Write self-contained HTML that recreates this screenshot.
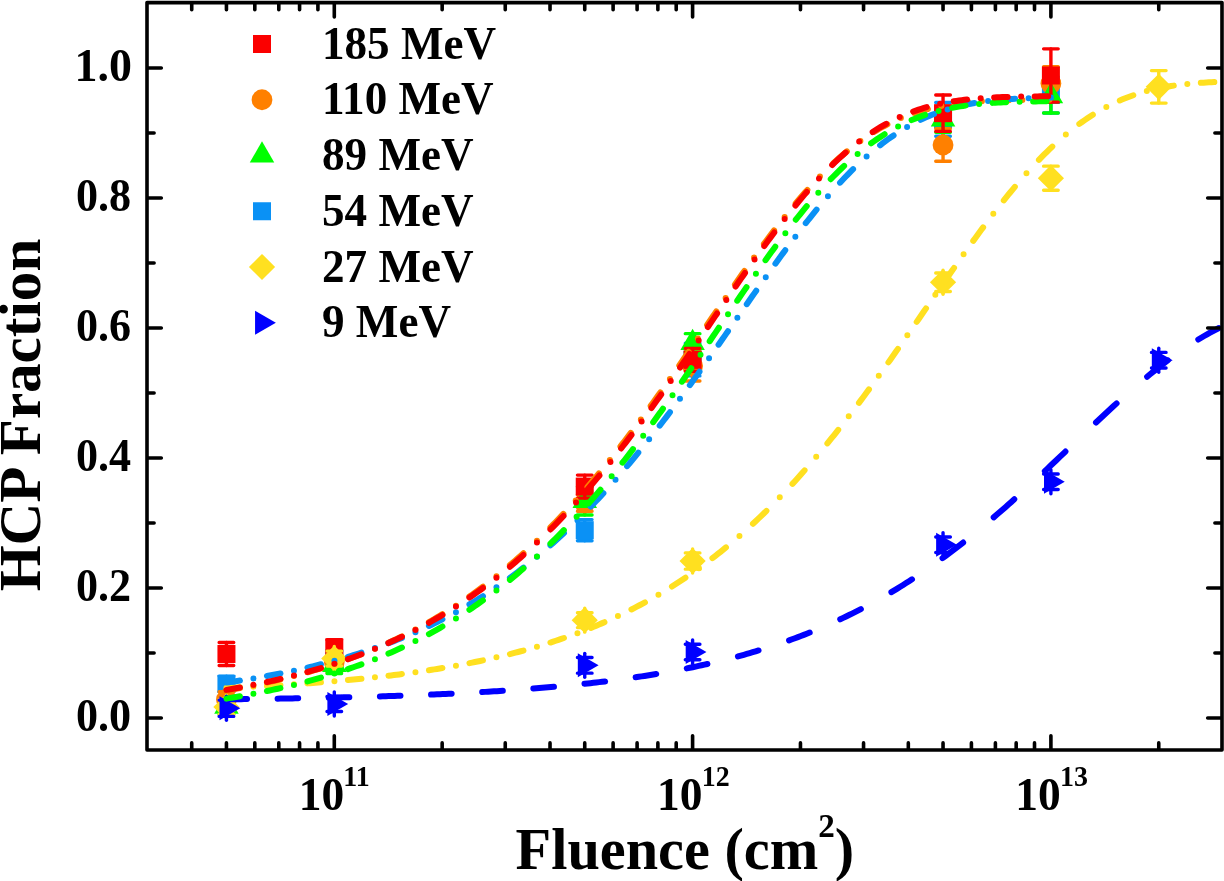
<!DOCTYPE html>
<html><head><meta charset="utf-8"><title>HCP Fraction vs Fluence</title>
<style>html,body{margin:0;padding:0;background:#fff;}body{width:1224px;height:881px;overflow:hidden;font-family:"Liberation Serif",serif;}svg{display:block;will-change:transform;}</style>
</head><body>
<svg width="1224" height="881" viewBox="0 0 1224 881">
<g id="markers">
<g>
<g stroke="#0a91f5" stroke-width="3.4" stroke-linecap="round" fill="none"><path d="M226.44 676.08V691.67"/><path d="M219.14 676.08H233.74M219.14 691.67H233.74"/></g>
<g stroke="#0a91f5" stroke-width="3.4" stroke-linecap="round" fill="none"><path d="M334.30 650.73V666.32"/><path d="M327.00 650.73H341.60M327.00 666.32H341.60"/></g>
<g stroke="#0a91f5" stroke-width="3.4" stroke-linecap="round" fill="none"><path d="M584.74 519.62V540.68"/><path d="M577.44 519.62H592.04M577.44 540.68H592.04"/></g>
<g stroke="#0a91f5" stroke-width="3.4" stroke-linecap="round" fill="none"><path d="M692.60 343.15V375.91"/><path d="M685.30 343.15H699.90M685.30 375.91H699.90"/></g>
<g stroke="#0a91f5" stroke-width="3.4" stroke-linecap="round" fill="none"><path d="M943.04 102.45V136.25"/><path d="M935.74 102.45H950.34M935.74 136.25H950.34"/></g>
<g stroke="#0a91f5" stroke-width="3.4" stroke-linecap="round" fill="none"><path d="M1050.90 76.97V112.98"/><path d="M1043.60 76.97H1058.20M1043.60 112.98H1058.20"/></g>
</g>
<g>
<rect x="217.44" y="674.88" width="18.0" height="18.0" fill="#0a91f5"/>
<rect x="325.30" y="649.52" width="18.0" height="18.0" fill="#0a91f5"/>
<rect x="575.74" y="521.15" width="18.0" height="18.0" fill="#0a91f5"/>
<rect x="683.60" y="350.53" width="18.0" height="18.0" fill="#0a91f5"/>
<rect x="934.04" y="110.35" width="18.0" height="18.0" fill="#0a91f5"/>
<rect x="1041.90" y="85.98" width="18.0" height="18.0" fill="#0a91f5"/>
</g>
<g>
<g stroke="#ff8000" stroke-width="3.4" stroke-linecap="round" fill="none"><path d="M226.44 691.68V707.27"/><path d="M219.14 691.68H233.74M219.14 707.27H233.74"/></g>
<g stroke="#ff8000" stroke-width="3.4" stroke-linecap="round" fill="none"><path d="M334.30 651.38V672.17"/><path d="M327.00 651.38H341.60M327.00 672.17H341.60"/></g>
<g stroke="#ff8000" stroke-width="3.4" stroke-linecap="round" fill="none"><path d="M584.74 494.40V511.30"/><path d="M577.44 494.40H592.04M577.44 511.30H592.04"/></g>
<g stroke="#ff8000" stroke-width="3.4" stroke-linecap="round" fill="none"><path d="M692.60 351.08V380.98"/><path d="M685.30 351.08H699.90M685.30 380.98H699.90"/></g>
<g stroke="#ff8000" stroke-width="3.4" stroke-linecap="round" fill="none"><path d="M943.04 128.77V161.27"/><path d="M935.74 128.77H950.34M935.74 161.27H950.34"/></g>
<g stroke="#ff8000" stroke-width="3.4" stroke-linecap="round" fill="none"><path d="M1050.90 66.70V100.50"/><path d="M1043.60 66.70H1058.20M1043.60 100.50H1058.20"/></g>
</g>
<g>
<g stroke="#00ff00" stroke-width="3.4" stroke-linecap="round" fill="none"><path d="M226.44 698.83V714.42"/><path d="M219.14 698.83H233.74M219.14 714.42H233.74"/></g>
<g stroke="#00ff00" stroke-width="3.4" stroke-linecap="round" fill="none"><path d="M334.30 656.57V673.48"/><path d="M327.00 656.57H341.60M327.00 673.48H341.60"/></g>
<g stroke="#00ff00" stroke-width="3.4" stroke-linecap="round" fill="none"><path d="M584.74 486.79V515.00"/><path d="M577.44 486.79H592.04M577.44 515.00H592.04"/></g>
<g stroke="#00ff00" stroke-width="3.4" stroke-linecap="round" fill="none"><path d="M692.60 333.66V352.25"/><path d="M685.30 333.66H699.90M685.30 352.25H699.90"/></g>
<g stroke="#00ff00" stroke-width="3.4" stroke-linecap="round" fill="none"><path d="M943.04 106.35V132.35"/><path d="M935.74 106.35H950.34M935.74 132.35H950.34"/></g>
<g stroke="#00ff00" stroke-width="3.4" stroke-linecap="round" fill="none"><path d="M1050.90 79.57V112.98"/><path d="M1043.60 79.57H1058.20M1043.60 112.98H1058.20"/></g>
</g>
<g>
<circle cx="226.44" cy="699.48" r="10.4" fill="#ff8000"/>
<circle cx="334.30" cy="661.77" r="10.4" fill="#ff8000"/>
<circle cx="584.74" cy="502.85" r="10.4" fill="#ff8000"/>
<circle cx="692.60" cy="366.03" r="10.4" fill="#ff8000"/>
<circle cx="943.04" cy="145.02" r="10.4" fill="#ff8000"/>
<circle cx="1050.90" cy="83.60" r="10.4" fill="#ff8000"/>
</g>
<g>
<path d="M226.44 692.48L238.69 713.70L214.19 713.70Z" fill="#00ff00"/>
<path d="M334.30 650.88L346.55 672.10L322.05 672.10Z" fill="#00ff00"/>
<path d="M584.74 486.75L596.99 507.97L572.49 507.97Z" fill="#00ff00"/>
<path d="M692.60 328.80L704.85 350.02L680.35 350.02Z" fill="#00ff00"/>
<path d="M943.04 105.20L955.29 126.42L930.79 126.42Z" fill="#00ff00"/>
<path d="M1050.90 82.13L1063.15 103.35L1038.65 103.35Z" fill="#00ff00"/>
</g>
<g>
<g stroke="#fb0000" stroke-width="3.4" stroke-linecap="round" fill="none"><path d="M226.44 642.47V665.48"/><path d="M219.14 642.47H233.74M219.14 665.48H233.74"/></g>
<g stroke="#fb0000" stroke-width="3.4" stroke-linecap="round" fill="none"><path d="M334.30 639.68V655.27"/><path d="M327.00 639.68H341.60M327.00 655.27H341.60"/></g>
<g stroke="#fb0000" stroke-width="3.4" stroke-linecap="round" fill="none"><path d="M584.74 475.10V498.11"/><path d="M577.44 475.10H592.04M577.44 498.11H592.04"/></g>
<g stroke="#fb0000" stroke-width="3.4" stroke-linecap="round" fill="none"><path d="M692.60 348.34V371.35"/><path d="M685.30 348.34H699.90M685.30 371.35H699.90"/></g>
<g stroke="#fb0000" stroke-width="3.4" stroke-linecap="round" fill="none"><path d="M943.04 94.97V131.37"/><path d="M935.74 94.97H950.34M935.74 131.37H950.34"/></g>
<g stroke="#fb0000" stroke-width="3.4" stroke-linecap="round" fill="none"><path d="M1050.90 48.83V102.13"/><path d="M1043.60 48.83H1058.20M1043.60 102.13H1058.20"/></g>
</g>
<g>
<rect x="217.44" y="644.98" width="18.0" height="18.0" fill="#fb0000"/>
<rect x="325.30" y="638.48" width="18.0" height="18.0" fill="#fb0000"/>
<rect x="575.74" y="477.60" width="18.0" height="18.0" fill="#fb0000"/>
<rect x="683.60" y="350.85" width="18.0" height="18.0" fill="#fb0000"/>
<rect x="934.04" y="104.17" width="18.0" height="18.0" fill="#fb0000"/>
<rect x="1041.90" y="66.48" width="18.0" height="18.0" fill="#fb0000"/>
</g>
<g>
<g stroke="#ffe020" stroke-width="3.4" stroke-linecap="round" fill="none"><path d="M226.44 695.01V719.01"/><path d="M219.14 699.61H233.74M219.14 714.42H233.74"/></g>
<g stroke="#ffe020" stroke-width="3.4" stroke-linecap="round" fill="none"><path d="M334.30 646.52V670.52"/><path d="M327.00 651.12H341.60M327.00 665.93H341.60"/></g>
<g stroke="#ffe020" stroke-width="3.4" stroke-linecap="round" fill="none"><path d="M584.74 608.17V632.17"/><path d="M577.44 612.76H592.04M577.44 627.58H592.04"/></g>
<g stroke="#ffe020" stroke-width="3.4" stroke-linecap="round" fill="none"><path d="M692.60 549.02V573.02"/><path d="M685.30 552.90H699.90M685.30 569.15H699.90"/></g>
<g stroke="#ffe020" stroke-width="3.4" stroke-linecap="round" fill="none"><path d="M943.04 270.24V294.24"/><path d="M935.74 272.94H950.34M935.74 291.54H950.34"/></g>
<g stroke="#ffe020" stroke-width="3.4" stroke-linecap="round" fill="none"><path d="M1050.90 166.15V190.20"/><path d="M1043.60 166.15H1058.20M1043.60 190.20H1058.20"/></g>
<g stroke="#ffe020" stroke-width="3.4" stroke-linecap="round" fill="none"><path d="M1158.76 70.60V103.10"/><path d="M1151.46 70.60H1166.06M1151.46 103.10H1166.06"/></g>
</g>
<g>
<path d="M226.44 693.91L239.54 707.01L226.44 720.12L213.34 707.01Z" fill="#ffe020"/>
<path d="M334.30 645.42L347.40 658.52L334.30 671.62L321.20 658.52Z" fill="#ffe020"/>
<path d="M584.74 607.07L597.84 620.17L584.74 633.27L571.64 620.17Z" fill="#ffe020"/>
<path d="M692.60 547.92L705.70 561.02L692.60 574.12L679.50 561.02Z" fill="#ffe020"/>
<path d="M943.04 269.14L956.14 282.24L943.04 295.34L929.94 282.24Z" fill="#ffe020"/>
<path d="M1050.90 165.07L1064.00 178.17L1050.90 191.27L1037.80 178.17Z" fill="#ffe020"/>
<path d="M1158.76 73.75L1171.86 86.85L1158.76 99.95L1145.66 86.85Z" fill="#ffe020"/>
</g>
<g>
<g stroke="#0000ff" stroke-width="3.4" stroke-linecap="round" fill="none"><path d="M226.44 696.25V720.25"/><path d="M219.14 700.12H233.74M219.14 716.38H233.74"/></g>
<g stroke="#0000ff" stroke-width="3.4" stroke-linecap="round" fill="none"><path d="M334.30 692.02V716.02"/><path d="M327.00 696.55H341.60M327.00 711.50H341.60"/></g>
<g stroke="#0000ff" stroke-width="3.4" stroke-linecap="round" fill="none"><path d="M584.74 653.35V677.35"/><path d="M577.44 657.55H592.04M577.44 673.15H592.04"/></g>
<g stroke="#0000ff" stroke-width="3.4" stroke-linecap="round" fill="none"><path d="M692.60 640.02V664.02"/><path d="M685.30 644.23H699.90M685.30 659.82H699.90"/></g>
<g stroke="#0000ff" stroke-width="3.4" stroke-linecap="round" fill="none"><path d="M943.04 532.77V556.77"/><path d="M935.74 536.98H950.34M935.74 552.57H950.34"/></g>
<g stroke="#0000ff" stroke-width="3.4" stroke-linecap="round" fill="none"><path d="M1050.90 469.73V493.73"/><path d="M1043.60 473.93H1058.20M1043.60 489.53H1058.20"/></g>
<g stroke="#0000ff" stroke-width="3.4" stroke-linecap="round" fill="none"><path d="M1158.76 348.18V372.18"/><path d="M1151.46 352.38H1166.06M1151.46 367.98H1166.06"/></g>
</g>
<g>
<path d="M240.30 708.25L219.51 696.25L219.51 720.25Z" fill="#0000ff"/>
<path d="M348.16 704.02L327.37 692.02L327.37 716.02Z" fill="#0000ff"/>
<path d="M598.60 665.35L577.81 653.35L577.81 677.35Z" fill="#0000ff"/>
<path d="M706.46 652.02L685.67 640.02L685.67 664.02Z" fill="#0000ff"/>
<path d="M956.90 544.77L936.11 532.77L936.11 556.77Z" fill="#0000ff"/>
<path d="M1064.76 481.73L1043.97 469.73L1043.97 493.73Z" fill="#0000ff"/>
<path d="M1172.62 360.18L1151.83 348.18L1151.83 372.18Z" fill="#0000ff"/>
</g>
</g>
<g id="curves">
<path d="M226.44 699.33L229.38 699.30L232.33 699.27L235.27 699.23L238.21 699.20L241.16 699.16L244.10 699.12L247.04 699.08M277.59 698.65L280.53 698.60L283.48 698.55L286.42 698.51L289.36 698.46L292.31 698.41L295.25 698.35L298.19 698.30M328.74 697.70L331.68 697.63L334.63 697.57L337.57 697.50L340.51 697.43L343.46 697.36L346.40 697.29L349.34 697.22M379.89 696.38L382.83 696.29L385.78 696.20L388.72 696.11L391.66 696.01L394.61 695.92L397.55 695.82L400.49 695.72M431.04 694.56L433.98 694.44L436.93 694.31L439.87 694.18L442.81 694.05L445.76 693.92L448.70 693.78L451.64 693.64M482.19 692.04L485.13 691.87L488.08 691.70L491.02 691.52L493.96 691.34L496.91 691.16L499.85 690.97L502.79 690.78M533.34 688.58L536.28 688.34L539.23 688.10L542.17 687.86L545.11 687.61L548.06 687.36L551.00 687.10L553.94 686.84M584.49 683.81L587.43 683.48L590.38 683.16L593.32 682.82L596.26 682.48L599.21 682.13L602.15 681.78L605.09 681.42M635.64 677.28L638.58 676.84L641.53 676.39L644.47 675.93L647.41 675.47L650.36 675.00L653.30 674.51L656.24 674.02M686.79 668.39L689.73 667.80L692.68 667.19L695.62 666.57L698.56 665.94L701.51 665.30L704.45 664.65L707.39 663.98M737.94 656.40L740.88 655.59L743.83 654.77L746.77 653.94L749.71 653.10L752.66 652.24L755.60 651.37L758.54 650.48M789.09 640.37L792.03 639.30L794.98 638.22L797.92 637.12L800.86 636.00L803.81 634.87L806.75 633.71L809.69 632.54M840.24 619.28L843.18 617.89L846.13 616.48L849.07 615.06L852.01 613.60L854.96 612.13L857.90 610.64L860.84 609.13M891.39 592.13L894.33 590.36L897.28 588.57L900.22 586.76L903.16 584.93L906.11 583.07L909.05 581.19L911.99 579.29M942.54 558.16L945.48 556.00L948.43 553.81L951.37 551.59L954.31 549.36L957.26 547.10L960.20 544.82L963.14 542.52M993.69 517.38L996.63 514.85L999.58 512.29L1002.52 509.72L1005.46 507.13L1008.41 504.53L1011.35 501.90L1014.29 499.27M1044.84 471.09L1047.78 468.32L1050.73 465.54L1053.67 462.75L1056.61 459.96L1059.56 457.16L1062.50 454.36L1065.44 451.55M1095.99 422.51L1098.93 419.74L1101.88 416.98L1104.82 414.24L1107.76 411.51L1110.71 408.79L1113.65 406.08L1116.59 403.40M1147.14 376.72L1150.08 374.29L1153.03 371.90L1155.97 369.54L1158.91 367.20L1161.86 364.91L1164.80 362.64L1167.74 360.41M1198.29 339.54L1201.23 337.76L1204.18 336.03L1207.12 334.34L1210.06 332.69L1213.01 331.09L1215.95 329.53L1218.89 328.02" stroke="#0000ff" stroke-width="6.0" stroke-linecap="round" stroke-linejoin="round" fill="none"/>
<path d="M226.44 687.95L229.14 687.83L231.84 687.71L234.54 687.59L237.24 687.47L239.94 687.34M253.44 686.68h0.01M266.94 685.95L269.64 685.80L272.34 685.65L275.04 685.49L277.74 685.33L280.44 685.17M293.94 684.31h0.01M307.44 683.37L310.14 683.18L312.84 682.98L315.54 682.77L318.24 682.57L320.94 682.36M334.44 681.25h0.01M347.94 680.05L350.64 679.79L353.34 679.53L356.04 679.27L358.74 679.00L361.44 678.73M374.94 677.31h0.01M388.44 675.75L391.14 675.43L393.84 675.10L396.54 674.76L399.24 674.41L401.94 674.06M415.44 672.23h0.01M428.94 670.23L431.64 669.81L434.34 669.39L437.04 668.95L439.74 668.51L442.44 668.06M455.94 665.70h0.01M469.44 663.14L472.14 662.61L474.84 662.06L477.54 661.50L480.24 660.94L482.94 660.37M496.44 657.35h0.01M509.94 654.08L512.64 653.39L515.34 652.69L518.04 651.98L520.74 651.26L523.44 650.53M536.94 646.69h0.01M550.44 642.53L553.14 641.65L555.84 640.77L558.54 639.87L561.24 638.95L563.94 638.02M577.44 633.15h0.01M590.94 627.89L593.64 626.78L596.34 625.66L599.04 624.53L601.74 623.37L604.44 622.20M617.94 616.07h0.01M631.44 609.46L634.14 608.08L636.84 606.68L639.54 605.25L642.24 603.81L644.94 602.35M658.44 594.70h0.01M671.94 586.48L674.64 584.77L677.34 583.03L680.04 581.27L682.74 579.48L685.44 577.67M698.94 568.23h0.01M712.44 558.15L715.14 556.05L717.84 553.93L720.54 551.78L723.24 549.60L725.94 547.39M739.44 535.93h0.01M752.94 523.75L755.64 521.23L758.34 518.68L761.04 516.09L763.74 513.48L766.44 510.84M779.76 497.37h0.01M792.45 483.87L794.92 481.17L797.36 478.47L799.79 475.77L802.19 473.07L804.57 470.37M816.19 456.87h0.01M827.39 443.37L829.58 440.67L831.76 437.97L833.93 435.27L836.08 432.57L838.22 429.87M848.73 416.37h0.01M858.96 402.87L860.98 400.17L862.99 397.47L864.99 394.77L866.98 392.07L868.96 389.37M878.77 375.87h0.01M888.41 362.37L890.33 359.67L892.23 356.97L894.14 354.27L896.03 351.57L897.93 348.87M907.34 335.37h0.01M916.69 321.87L918.56 319.17L920.42 316.47L922.28 313.77L924.14 311.07L926.00 308.37M935.31 294.87h0.01M944.65 281.37L946.52 278.67L948.40 275.97L950.28 273.27L952.17 270.57L954.06 267.87M963.57 254.37h0.01M973.24 240.87L975.20 238.17L977.17 235.47L979.14 232.77L981.13 230.07L983.13 227.37M993.29 213.87h0.01M1003.82 200.37L1005.98 197.67L1008.16 194.97L1010.36 192.27L1012.58 189.57L1014.83 186.87M1026.46 173.37h0.01M1038.93 159.87L1041.55 157.17L1044.22 154.47L1046.92 151.79L1049.62 149.17L1052.32 146.59M1065.82 134.56h0.01M1079.32 123.94L1082.02 121.98L1084.72 120.09L1087.42 118.25L1090.12 116.47L1092.82 114.74M1106.32 106.94h0.01M1119.82 100.47L1122.52 99.33L1125.22 98.23L1127.92 97.19L1130.62 96.19L1133.32 95.24M1146.82 91.12h0.01M1160.32 87.97L1163.02 87.45L1165.72 86.95L1168.42 86.49L1171.12 86.05L1173.82 85.64M1187.32 83.98h0.01M1200.82 82.83L1203.52 82.65L1206.22 82.49L1208.92 82.34L1211.62 82.20L1214.32 82.08" stroke="#ffe020" stroke-width="6.0" stroke-linecap="round" stroke-linejoin="round" fill="none"/>
<path d="M226.44 690.57L229.14 690.10L231.84 689.61L234.54 689.12L237.24 688.62L239.94 688.11M253.44 685.44h0.01M266.94 682.54L269.64 681.93L272.34 681.31L275.04 680.68L277.74 680.04L280.44 679.39M293.94 675.98h0.01M307.44 672.28L310.14 671.51L312.84 670.72L315.54 669.92L318.24 669.10L320.94 668.28M334.44 663.94h0.01M347.94 659.25L350.64 658.26L353.34 657.26L356.04 656.25L358.74 655.22L361.44 654.17M374.94 648.69h0.01M388.44 642.77L391.14 641.54L393.84 640.28L396.54 639.00L399.24 637.71L401.94 636.39M415.44 629.52h0.01M428.94 622.12L431.64 620.58L434.34 619.01L437.04 617.42L439.74 615.81L442.44 614.18M455.94 605.65h0.01M469.44 596.50L472.14 594.60L474.84 592.67L477.54 590.71L480.24 588.73L482.94 586.72M496.44 576.27h0.01M509.94 565.13L512.64 562.81L515.34 560.47L518.04 558.10L520.74 555.70L523.44 553.27M536.94 540.69h0.01M550.41 527.38L553.06 524.68L555.68 521.98L558.27 519.28L560.83 516.58L563.37 513.88M575.72 500.38h0.01M587.53 486.88L589.84 484.18L592.13 481.48L594.40 478.78L596.65 476.08L598.89 473.38M609.85 459.88h0.01M620.47 446.38L622.55 443.68L624.63 440.98L626.69 438.28L628.74 435.58L630.79 432.88M640.85 419.38h0.01M650.70 405.88L652.65 403.18L654.59 400.48L656.52 397.78L658.45 395.08L660.37 392.38M669.88 378.88h0.01M679.29 365.38L681.15 362.68L683.02 359.98L684.88 357.28L686.74 354.58L688.60 351.88M697.86 338.38h0.01M707.09 324.88L708.93 322.18L710.78 319.48L712.63 316.78L714.47 314.08L716.32 311.38M725.60 297.88h0.01M734.95 284.38L736.84 281.68L738.73 278.98L740.62 276.28L742.52 273.58L744.43 270.88M754.07 257.38h0.01M763.93 243.88L765.94 241.18L767.96 238.48L769.99 235.78L772.03 233.08L774.09 230.38M784.63 216.88h0.01M795.67 203.38L797.95 200.68L800.26 197.98L802.60 195.28L804.97 192.58L807.37 189.88M819.94 176.38h0.01M833.38 163.21L836.08 160.73L838.78 158.30L841.48 155.93L844.18 153.61L846.88 151.36M860.38 140.93h0.01M873.88 131.94L876.58 130.31L879.28 128.74L881.98 127.22L884.68 125.76L887.38 124.35M900.88 118.08h0.01M914.38 113.04L917.08 112.17L919.78 111.34L922.48 110.56L925.18 109.81L927.88 109.10M941.38 106.10h0.01M954.88 103.90L957.58 103.54L960.28 103.21L962.98 102.90L965.68 102.61L968.38 102.34M981.88 101.27h0.01M995.38 100.57L998.08 100.47L1000.78 100.37L1003.48 100.29L1006.18 100.21L1008.88 100.14M1022.38 99.88h0.01M1035.88 99.74L1038.58 99.72L1041.28 99.70L1043.98 99.68L1046.68 99.67L1049.38 99.66" stroke="#ff8000" stroke-width="6.0" stroke-linecap="round" stroke-linejoin="round" fill="none"/>
<path d="M226.44 682.60L229.14 682.21L231.84 681.82L234.54 681.41L237.24 681.00L239.94 680.59M253.44 678.40h0.01M266.94 676.02L269.64 675.52L272.34 675.01L275.04 674.49L277.74 673.97L280.44 673.43M293.94 670.63h0.01M307.44 667.58L310.14 666.95L312.84 666.30L315.54 665.64L318.24 664.97L320.94 664.28M334.44 660.71h0.01M347.94 656.83L350.64 656.02L353.34 655.19L356.04 654.35L358.74 653.50L361.44 652.63M374.94 648.09h0.01M388.44 643.18L391.14 642.15L393.84 641.10L396.54 640.04L399.24 638.97L401.94 637.87M415.44 632.14h0.01M428.94 625.96L431.64 624.67L434.34 623.36L437.04 622.03L439.74 620.68L442.44 619.31M455.94 612.14h0.01M469.44 604.44L472.14 602.83L474.84 601.20L477.54 599.55L480.24 597.87L482.94 596.17M496.44 587.30h0.01M509.94 577.81L512.64 575.84L515.34 573.84L518.04 571.81L520.74 569.75L523.44 567.67M536.94 556.86h0.01M550.44 545.35L553.14 542.96L555.84 540.54L558.54 538.10L561.24 535.62L563.94 533.12M577.44 520.16h0.01M590.74 506.69L593.32 503.99L595.88 501.29L598.41 498.59L600.92 495.89L603.40 493.19M615.50 479.69h0.01M627.12 466.19L629.39 463.49L631.64 460.79L633.88 458.09L636.10 455.39L638.31 452.69M649.15 439.19h0.01M659.68 425.69L661.75 422.99L663.81 420.29L665.86 417.59L667.90 414.89L669.93 412.19M679.97 398.69h0.01M689.81 385.19L691.76 382.49L693.70 379.79L695.64 377.09L697.57 374.39L699.50 371.69M709.07 358.19h0.01M718.54 344.69L720.43 341.99L722.32 339.29L724.20 336.59L726.08 333.89L727.96 331.19M737.36 317.69h0.01M746.76 304.19L748.64 301.49L750.53 298.79L752.42 296.09L754.31 293.39L756.21 290.69M765.74 277.19h0.01M775.40 263.69L777.35 260.99L779.31 258.29L781.28 255.59L783.26 252.89L785.24 250.19M795.33 236.69h0.01M805.74 223.19L807.86 220.49L810.01 217.79L812.17 215.09L814.36 212.39L816.56 209.69M827.93 196.19h0.01M840.02 182.69L842.55 179.99L845.12 177.29L847.73 174.59L850.39 171.89L853.09 169.20M866.59 156.55h0.01M880.09 145.28L882.79 143.19L885.49 141.16L888.19 139.19L890.89 137.27L893.59 135.41M907.09 126.95h0.01M920.59 119.85L923.29 118.59L925.99 117.38L928.69 116.21L931.39 115.10L934.09 114.03M947.59 109.38h0.01M961.09 105.77L963.79 105.16L966.49 104.58L969.19 104.04L971.89 103.53L974.59 103.05M988.09 101.07h0.01M1001.59 99.68L1004.29 99.46L1006.99 99.26L1009.69 99.07L1012.39 98.90L1015.09 98.74M1028.59 98.13h0.01M1042.09 97.76L1045.03 97.70L1047.96 97.65L1050.90 97.60" stroke="#0a91f5" stroke-width="6.0" stroke-linecap="round" stroke-linejoin="round" fill="none"/>
<path d="M226.44 698.60L229.14 698.15L231.84 697.70L234.54 697.23L237.24 696.76L239.94 696.29M253.44 693.78h0.01M266.94 691.05L269.64 690.48L272.34 689.90L275.04 689.30L277.74 688.70L280.44 688.09M293.94 684.88h0.01M307.44 681.40L310.14 680.67L312.84 679.93L315.54 679.17L318.24 678.41L320.94 677.63M334.44 673.54h0.01M347.94 669.12L350.64 668.19L353.34 667.25L356.04 666.29L358.74 665.32L361.44 664.33M374.94 659.16h0.01M388.44 653.57L391.14 652.40L393.84 651.21L396.54 650.01L399.24 648.78L401.94 647.54M415.44 641.04h0.01M428.94 634.03L431.64 632.57L434.34 631.09L437.04 629.58L439.74 628.05L442.44 626.50M455.94 618.40h0.01M469.44 609.72L472.14 607.90L474.84 606.07L477.54 604.21L480.24 602.32L482.94 600.41M496.44 590.45h0.01M509.94 579.81L512.64 577.60L515.34 575.36L518.04 573.10L520.74 570.80L523.44 568.48M536.94 556.42h0.01M550.44 543.62L553.14 540.98L555.84 538.30L558.53 535.60L561.19 532.90L563.83 530.20M576.59 516.70h0.01M588.77 503.20L591.14 500.50L593.49 497.80L595.82 495.10L598.14 492.40L600.43 489.70M611.65 476.20h0.01M622.48 462.70L624.61 460.00L626.72 457.30L628.82 454.60L630.91 451.90L632.99 449.20M643.20 435.70h0.01M653.17 422.20L655.13 419.50L657.09 416.80L659.04 414.10L660.99 411.40L662.92 408.70M672.51 395.20h0.01M681.94 381.70L683.82 379.00L685.68 376.30L687.55 373.60L689.41 370.90L691.27 368.20M700.50 354.70h0.01M709.69 341.20L711.52 338.50L713.35 335.80L715.19 333.10L717.02 330.40L718.85 327.70M728.02 314.20h0.01M737.22 300.70L739.07 298.00L740.93 295.30L742.78 292.60L744.64 289.90L746.51 287.20M755.91 273.70h0.01M765.48 260.20L767.41 257.50L769.36 254.80L771.32 252.10L773.28 249.40L775.26 246.70M785.34 233.20h0.01M795.79 219.70L797.93 217.00L800.10 214.30L802.29 211.60L804.49 208.90L806.73 206.20M818.30 192.70h0.01M830.73 179.20L833.34 176.50L836.01 173.80L838.71 171.12L841.41 168.49L844.11 165.91M857.61 153.89h0.01M871.11 143.31L873.81 141.37L876.51 139.48L879.21 137.66L881.91 135.89L884.61 134.17M898.11 126.45h0.01M911.61 120.07L914.31 118.94L917.01 117.87L919.71 116.84L922.41 115.86L925.11 114.93M938.61 110.89h0.01M952.11 107.83L954.81 107.32L957.51 106.84L960.21 106.39L962.91 105.96L965.61 105.57M979.11 103.96h0.01M992.61 102.87L995.31 102.70L998.01 102.54L1000.71 102.40L1003.41 102.27L1006.11 102.15M1019.61 101.70h0.01M1033.11 101.43L1035.81 101.39L1038.51 101.36L1041.21 101.33L1043.91 101.30L1046.61 101.28" stroke="#00ff00" stroke-width="6.0" stroke-linecap="round" stroke-linejoin="round" fill="none"/>
<path d="M226.44 689.89L229.14 689.43L231.84 688.96L234.54 688.47L237.24 687.98L239.94 687.49M253.44 684.87h0.01M266.94 682.03L269.64 681.43L272.34 680.83L275.04 680.21L277.74 679.58L280.44 678.95M293.94 675.61h0.01M307.44 671.98L310.14 671.22L312.84 670.45L315.54 669.66L318.24 668.87L320.94 668.05M334.44 663.80h0.01M347.94 659.20L350.64 658.24L353.34 657.26L356.04 656.26L358.74 655.25L361.44 654.23M374.94 648.85h0.01M388.44 643.05L391.14 641.83L393.84 640.60L396.54 639.35L399.24 638.07L401.94 636.78M415.44 630.04h0.01M428.94 622.78L431.64 621.26L434.34 619.72L437.04 618.16L439.74 616.57L442.44 614.97M455.94 606.58h0.01M469.44 597.59L472.14 595.72L474.84 593.82L477.54 591.90L480.24 589.95L482.94 587.97M496.44 577.69h0.01M509.94 566.71L512.64 564.43L515.34 562.13L518.04 559.79L520.74 557.43L523.44 555.03M536.94 542.62h0.01M550.44 529.47L553.12 526.77L555.77 524.07L558.39 521.37L560.99 518.67L563.56 515.97M576.04 502.47h0.01M587.96 488.97L590.29 486.27L592.60 483.57L594.89 480.87L597.16 478.17L599.42 475.47M610.46 461.97h0.01M621.14 448.47L623.24 445.77L625.32 443.07L627.40 440.37L629.46 437.67L631.51 434.97M641.62 421.47h0.01M651.50 407.97L653.45 405.27L655.40 402.57L657.34 399.87L659.27 397.17L661.19 394.47M670.72 380.97h0.01M680.13 367.47L682.00 364.77L683.86 362.07L685.72 359.37L687.58 356.67L689.44 353.97M698.68 340.47h0.01M707.88 326.97L709.72 324.27L711.56 321.57L713.40 318.87L715.24 316.17L717.08 313.47M726.31 299.97h0.01M735.60 286.47L737.47 283.77L739.34 281.07L741.22 278.37L743.11 275.67L745.00 272.97M754.54 259.47h0.01M764.28 245.97L766.26 243.27L768.25 240.57L770.25 237.87L772.26 235.17L774.29 232.47M784.64 218.97h0.01M795.44 205.47L797.67 202.77L799.92 200.07L802.19 197.37L804.50 194.67L806.83 191.97M818.99 178.47h0.01M832.16 165.02L834.86 162.42L837.56 159.88L840.26 157.39L842.96 154.96L845.66 152.58M859.16 141.57h0.01M872.66 132.00L875.36 130.25L878.06 128.57L880.76 126.94L883.46 125.36L886.16 123.84M899.66 117.06h0.01M913.16 111.54L915.86 110.58L918.56 109.66L921.26 108.79L923.96 107.96L926.66 107.18M940.16 103.82h0.01M953.66 101.32L956.36 100.91L959.06 100.53L961.76 100.17L964.46 99.84L967.16 99.52M980.66 98.28h0.01M994.16 97.45L996.86 97.32L999.56 97.21L1002.26 97.10L1004.96 97.01L1007.66 96.92M1021.16 96.60h0.01M1034.66 96.42L1037.36 96.40L1040.06 96.37L1042.76 96.35L1045.46 96.34L1048.16 96.32" stroke="#fb0000" stroke-width="6.0" stroke-linecap="round" stroke-linejoin="round" fill="none"/>
</g>
<g stroke="#000" stroke-width="3.6" stroke-linecap="round" stroke-linejoin="round" fill="none">
<rect x="147.0" y="2.6" width="1075.0" height="747.4"/>
<path d="M191.72 749.0v-6.10M191.72 3.6v6.10M226.44 749.0v-6.10M226.44 3.6v6.10M254.81 749.0v-6.10M254.81 3.6v6.10M278.80 749.0v-6.10M278.80 3.6v6.10M299.58 749.0v-6.10M299.58 3.6v6.10M317.91 749.0v-6.10M317.91 3.6v6.10M334.30 749.0v-13.30M334.30 3.6v13.30M442.16 749.0v-6.10M442.16 3.6v6.10M505.25 749.0v-6.10M505.25 3.6v6.10M550.02 749.0v-6.10M550.02 3.6v6.10M584.74 749.0v-6.10M584.74 3.6v6.10M613.11 749.0v-6.10M613.11 3.6v6.10M637.10 749.0v-6.10M637.10 3.6v6.10M657.88 749.0v-6.10M657.88 3.6v6.10M676.21 749.0v-6.10M676.21 3.6v6.10M692.60 749.0v-13.30M692.60 3.6v13.30M800.46 749.0v-6.10M800.46 3.6v6.10M863.55 749.0v-6.10M863.55 3.6v6.10M908.32 749.0v-6.10M908.32 3.6v6.10M943.04 749.0v-6.10M943.04 3.6v6.10M971.41 749.0v-6.10M971.41 3.6v6.10M995.40 749.0v-6.10M995.40 3.6v6.10M1016.18 749.0v-6.10M1016.18 3.6v6.10M1034.51 749.0v-6.10M1034.51 3.6v6.10M1050.90 749.0v-13.30M1050.90 3.6v13.30M1158.76 749.0v-6.10M1158.76 3.6v6.10M148.0 718.00h13.30M1221.0 718.00h-13.30M148.0 653.00h6.10M1221.0 653.00h-6.10M148.0 588.00h13.30M1221.0 588.00h-13.30M148.0 523.00h6.10M1221.0 523.00h-6.10M148.0 458.00h13.30M1221.0 458.00h-13.30M148.0 393.00h6.10M1221.0 393.00h-6.10M148.0 328.00h13.30M1221.0 328.00h-13.30M148.0 263.00h6.10M1221.0 263.00h-6.10M148.0 198.00h13.30M1221.0 198.00h-13.30M148.0 133.00h6.10M1221.0 133.00h-6.10M148.0 68.00h13.30M1221.0 68.00h-13.30"/>
</g>
<g font-family="Liberation Serif, serif" font-weight="bold" fill="#000">
<text transform="translate(131.20 730.90) scale(0.99 1.06)" font-size="44.6" text-anchor="end">0.0</text>
<text transform="translate(131.20 600.90) scale(0.99 1.06)" font-size="44.6" text-anchor="end">0.2</text>
<text transform="translate(131.20 470.90) scale(0.99 1.06)" font-size="44.6" text-anchor="end">0.4</text>
<text transform="translate(131.20 340.90) scale(0.99 1.06)" font-size="44.6" text-anchor="end">0.6</text>
<text transform="translate(131.20 210.90) scale(0.99 1.06)" font-size="44.6" text-anchor="end">0.8</text>
<text transform="translate(131.90 80.90) scale(1.03 1.06)" font-size="44.6" text-anchor="end">1.0</text>
<text transform="translate(298.70 809.80) scale(1.02 1.05)" font-size="44.6" text-anchor="start">10<tspan font-size="27.4" dx="-0.8" dy="-23.1">11</tspan></text>
<text transform="translate(657.00 809.80) scale(1.02 1.05)" font-size="44.6" text-anchor="start">10<tspan font-size="27.4" dx="-0.8" dy="-23.1">12</tspan></text>
<text transform="translate(1015.30 809.80) scale(1.02 1.05)" font-size="44.6" text-anchor="start">10<tspan font-size="27.4" dx="-0.8" dy="-23.1">13</tspan></text>
<text transform="translate(322.00 58.80) scale(1.012 1.04)" font-size="44.6" text-anchor="start">185 MeV</text>
<text transform="translate(322.00 114.48) scale(1.012 1.04)" font-size="44.6" text-anchor="start">110 MeV</text>
<text transform="translate(322.00 170.16) scale(1.012 1.04)" font-size="44.6" text-anchor="start">89 MeV</text>
<text transform="translate(322.00 225.84) scale(1.012 1.04)" font-size="44.6" text-anchor="start">54 MeV</text>
<text transform="translate(322.00 281.52) scale(1.012 1.04)" font-size="44.6" text-anchor="start">27 MeV</text>
<text transform="translate(322.00 337.20) scale(1.012 1.04)" font-size="44.6" text-anchor="start">9 MeV</text>
<text transform="translate(515.60 868.90) scale(1.005 1.025)" font-size="58" text-anchor="start">Fluence (cm<tspan font-size="33" dy="-31">2</tspan><tspan dy="31">)</tspan></text>
<text transform="translate(40.40 591.30) rotate(-90) scale(1.018 1.02)" font-size="58" text-anchor="start">HCP Fraction</text>
</g>
<rect x="253.00" y="35.00" width="18.0" height="18.0" fill="#fb0000"/>
<circle cx="262.00" cy="99.75" r="10.4" fill="#ff8000"/>
<path d="M262.00 141.35L274.25 162.57L249.75 162.57Z" fill="#00ff00"/>
<rect x="253.00" y="202.25" width="18.0" height="18.0" fill="#0a91f5"/>
<path d="M262.00 253.90L275.10 267.00L262.00 280.10L248.90 267.00Z" fill="#ffe020"/>
<path d="M275.86 322.75L255.07 310.75L255.07 334.75Z" fill="#0000ff"/>
</svg>
</body></html>
